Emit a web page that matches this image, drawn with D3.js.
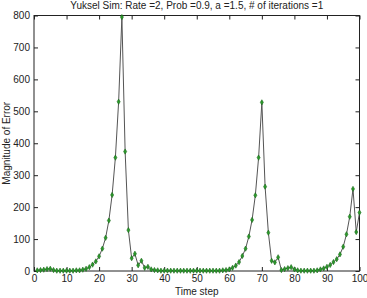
<!DOCTYPE html>
<html><head><meta charset="utf-8">
<script src="https://cdn.jsdelivr.net/npm/d3@7"></script>
<style>body{margin:0;background:#fff}svg{display:block}text{font-family:"Liberation Sans",Arial,sans-serif;fill:#222}</style>
</head><body><svg id="c" width="367" height="298"></svg>
<script>
const title = "Yuksel Sim: Rate =2, Prob =0.9, a =1.5, # of iterations =1";
const xLabel = "Time step";
const yLabel = "Magnitude of Error";
const xTicks = [0,10,20,30,40,50,60,70,80,90,100];
const yTicks = [0,100,200,300,400,500,600,700,800];
const timeSteps = d3.range(1,101);
const errors = [
 2,3,4,6,7,3,1,1,1,1,
 1,1,2,2,4,7,12,20,30,46,
 70,104,158,238,355,530,795,374,128,40,
 54,18,32,10,13,5,3,2,1,1,
 1,1,1,1,1,1,1,1,1,1,
 1,1,1,1,1,1,1,2,3,5,
 10,17,28,47,70,108,160,237,355,528,
 264,120,32,27,43,3,6,9,12,5,
 2,1,1,1,1,1,2,5,8,13,
 19,28,37,52,76,115,170,257,122,183
];
const m = {l:34, r:359.5, t:15.5, b:271};
const fs = "10px";
const svg = d3.select("#c");
const x = d3.scaleLinear().domain([0,100]).range([m.l,m.r]);
const y = d3.scaleLinear().domain([0,800]).range([m.b,m.t]);
const tk = 4;
const ax = (g)=>{g.selectAll(".domain").remove(); g.selectAll("line").attr("stroke","#222"); g.selectAll("text").style("font-size",fs).attr("fill","#222");};
svg.append("g").attr("transform",`translate(0,${m.b})`).call(d3.axisBottom(x).tickValues(xTicks).tickSizeInner(-tk).tickSizeOuter(0).tickPadding(4)).call(ax);
svg.append("g").attr("transform",`translate(0,${m.t})`).call(d3.axisTop(x).tickValues(xTicks).tickSizeInner(-tk).tickSizeOuter(0).tickFormat("")).call(ax);
svg.append("g").attr("transform",`translate(${m.l},0)`).call(d3.axisLeft(y).tickValues(yTicks).tickSizeInner(-tk).tickSizeOuter(0).tickPadding(4)).call(ax);
svg.append("g").attr("transform",`translate(${m.r},0)`).call(d3.axisRight(y).tickValues(yTicks).tickSizeInner(-tk).tickSizeOuter(0).tickFormat("")).call(ax);
svg.append("rect").attr("x",m.l).attr("y",m.t).attr("width",m.r-m.l).attr("height",m.b-m.t).attr("fill","none").attr("stroke","#222").attr("stroke-width",1);
const data = timeSteps.map((t,i)=>({t, v:errors[i]}));
svg.append("path").datum(data).attr("fill","none").attr("stroke","#555").attr("stroke-width",1)
  .attr("d", d3.line().x(d=>x(d.t)).y(d=>y(d.v)));
svg.append("g").selectAll("path").data(data).join("path")
  .attr("d", d3.symbol().type(d3.symbolDiamond).size(8))
  .attr("transform", d=>`translate(${x(d.t)},${y(d.v)})`)
  .attr("fill","#2a9a2a").attr("stroke","#1d6a1d").attr("stroke-width",0.6);
svg.append("text").attr("x",(m.l+m.r)/2).attr("y",9).attr("text-anchor","middle").style("font-size",fs).text(title);
svg.append("text").attr("x",(m.l+m.r)/2).attr("y",294.5).attr("text-anchor","middle").style("font-size",fs).text(xLabel);
svg.append("g").attr("transform",`translate(10,${(m.t+m.b)/2}) rotate(-90)`)
  .append("text").attr("text-anchor","middle").style("font-size",fs).text(yLabel);
</script></body></html>
